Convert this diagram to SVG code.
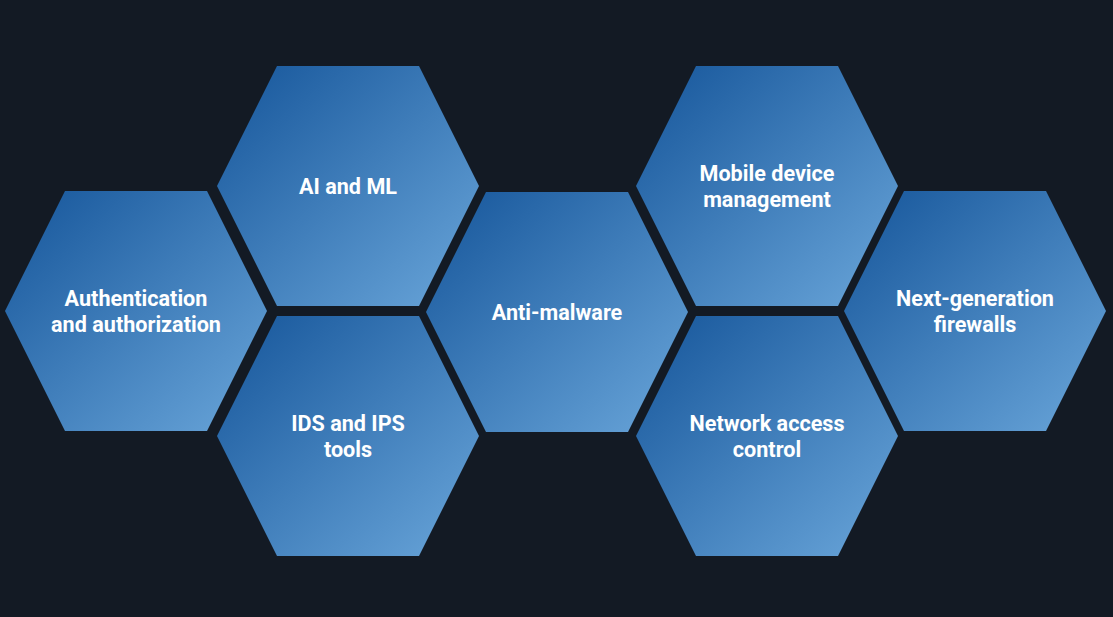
<svg xmlns="http://www.w3.org/2000/svg" width="1113" height="617" viewBox="0 0 1113 617">
<defs>
<linearGradient id="g" x1="0" y1="0" x2="1" y2="1">
<stop offset="0" stop-color="#15559a"/>
<stop offset="1" stop-color="#6aa6da"/>
</linearGradient>
<polygon id="hex" points="-131,0 -71,-120 71,-120 131,0 71,120 -71,120"/>
</defs>
<style>
.h{fill:url(#g)}
.t{font-family:Roboto,"Liberation Sans",sans-serif;font-weight:700;font-size:21.6px;fill:#ffffff;text-anchor:middle}
</style>
<rect width="1113" height="617" fill="#131a24"/>
<g id="connectors"/>
<g id="auth" transform="translate(136,311)"><use href="#hex" class="h"/><text class="t" y="-5">Authentication</text><text class="t" y="21">and authorization</text></g>
<g id="aiml" transform="translate(348,186)"><use href="#hex" class="h"/><text class="t" y="8">AI and ML</text></g>
<g id="ids" transform="translate(348,436)"><use href="#hex" class="h"/><text class="t" y="-5">IDS and IPS</text><text class="t" y="21">tools</text></g>
<g id="antimalware" transform="translate(557,312)"><use href="#hex" class="h"/><text class="t" y="8">Anti-malware</text></g>
<g id="mdm" transform="translate(767,186)"><use href="#hex" class="h"/><text class="t" y="-5">Mobile device</text><text class="t" y="21">management</text></g>
<g id="nac" transform="translate(767,436)"><use href="#hex" class="h"/><text class="t" y="-5">Network access</text><text class="t" y="21">control</text></g>
<g id="ngfw" transform="translate(975,311)"><use href="#hex" class="h"/><text class="t" y="-5">Next-generation</text><text class="t" y="21">firewalls</text></g>
</svg>
